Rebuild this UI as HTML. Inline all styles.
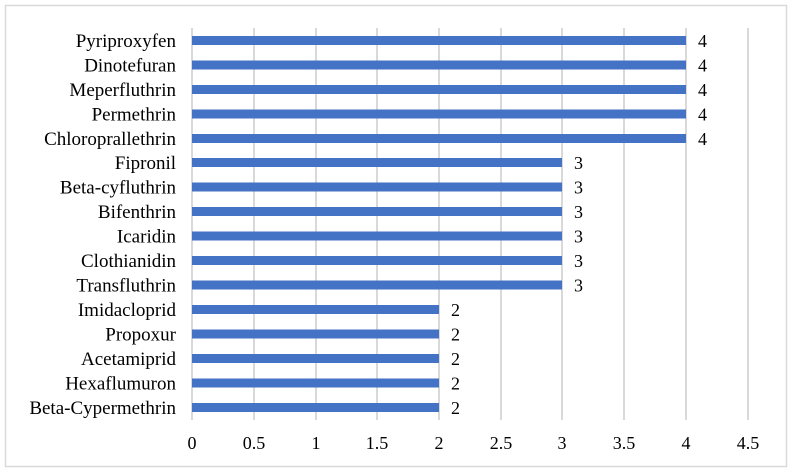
<!DOCTYPE html>
<html><head><style>body{margin:0;background:#fff}svg{display:block}</style></head><body>
<svg width="792" height="473" xmlns="http://www.w3.org/2000/svg" font-family="Liberation Serif, serif" font-size="18" fill="#000">
<rect x="5.5" y="5.5" width="781" height="461" fill="#fff" stroke="#d9d9d9" stroke-width="1.5"/>
<g stroke="#d9d9d9" stroke-width="2">
<line x1="192" y1="28" x2="192" y2="420"/><line x1="254" y1="28" x2="254" y2="420"/><line x1="316" y1="28" x2="316" y2="420"/><line x1="377" y1="28" x2="377" y2="420"/><line x1="439" y1="28" x2="439" y2="420"/><line x1="501" y1="28" x2="501" y2="420"/><line x1="562" y1="28" x2="562" y2="420"/><line x1="624" y1="28" x2="624" y2="420"/><line x1="686" y1="28" x2="686" y2="420"/><line x1="748" y1="28" x2="748" y2="420"/>
</g>
<g fill="#4472c4">
<rect x="192" y="36" width="494" height="9"/><rect x="192" y="60.5" width="494" height="9"/><rect x="192" y="85" width="494" height="9"/><rect x="192" y="109.5" width="494" height="9"/><rect x="192" y="134" width="494" height="9"/>
<rect x="192" y="158" width="370" height="9"/><rect x="192" y="182.5" width="370" height="9"/><rect x="192" y="207" width="370" height="9"/><rect x="192" y="231.5" width="370" height="9"/><rect x="192" y="256" width="370" height="9"/><rect x="192" y="280.5" width="370" height="9"/>
<rect x="192" y="305" width="247" height="9"/><rect x="192" y="329.5" width="247" height="9"/><rect x="192" y="354" width="247" height="9"/><rect x="192" y="378.5" width="247" height="9"/><rect x="192" y="403" width="247" height="9"/>
</g>
<g text-anchor="end" font-size="19">
<text x="176" y="47">Pyriproxyfen</text><text x="176" y="71.5">Dinotefuran</text><text x="176" y="96">Meperfluthrin</text><text x="176" y="120.5">Permethrin</text><text x="176" y="145">Chloroprallethrin</text><text x="176" y="169">Fipronil</text><text x="176" y="193.5">Beta-cyfluthrin</text><text x="176" y="218">Bifenthrin</text><text x="176" y="242.5">Icaridin</text><text x="176" y="267">Clothianidin</text><text x="176" y="291.5">Transfluthrin</text><text x="176" y="316">Imidacloprid</text><text x="176" y="340.5">Propoxur</text><text x="176" y="365">Acetamiprid</text><text x="176" y="389.5">Hexaflumuron</text><text x="176" y="414">Beta-Cypermethrin</text>
</g>
<g>
<text x="698" y="47">4</text><text x="698" y="71.5">4</text><text x="698" y="96">4</text><text x="698" y="120.5">4</text><text x="698" y="145">4</text>
<text x="574" y="169">3</text><text x="574" y="193.5">3</text><text x="574" y="218">3</text><text x="574" y="242.5">3</text><text x="574" y="267">3</text><text x="574" y="291.5">3</text>
<text x="451" y="316">2</text><text x="451" y="340.5">2</text><text x="451" y="365">2</text><text x="451" y="389.5">2</text><text x="451" y="414">2</text>
</g>
<g text-anchor="middle">
<text x="192" y="449">0</text><text x="254" y="449">0.5</text><text x="316" y="449">1</text><text x="377" y="449">1.5</text><text x="439" y="449">2</text><text x="501" y="449">2.5</text><text x="562" y="449">3</text><text x="624" y="449">3.5</text><text x="686" y="449">4</text><text x="748" y="449">4.5</text>
</g>
</svg>
</body></html>
